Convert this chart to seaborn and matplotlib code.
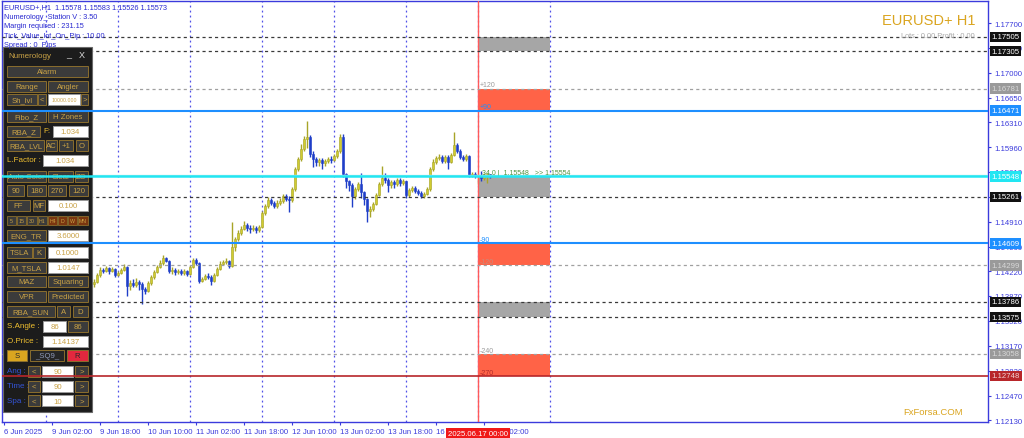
import matplotlib
matplotlib.use("Agg")
import matplotlib.pyplot as plt
from matplotlib.patches import Rectangle
from matplotlib.transforms import blended_transform_factory
import numpy as np
import seaborn as sns

# H1 bars, bar 0 = 6 Jun 2025 10:00 (first visible bar is 29, the rest sits under the panel)
first_bar = 29
first_open = 1.13990
closes = [
    1.14038, 1.14066, 1.14164, 1.14235, 1.14221, 1.14263, 1.14221, 1.14249, 1.14164, 1.14193,
    1.14235, 1.14277, 1.14010, 1.14052, 1.14024, 1.14066, 1.14038, 1.13968, 1.13940, 1.14052,
    1.14136, 1.14207, 1.14277, 1.14333, 1.14403, 1.14361, 1.14221, 1.14235, 1.14207, 1.14221,
    1.14193, 1.14221, 1.14179, 1.14277, 1.14375, 1.14333, 1.14080, 1.14108, 1.14150, 1.14136,
    1.14080, 1.14164, 1.14249, 1.14319, 1.14347, 1.14361, 1.14291, 1.14557, 1.14670, 1.14754,
    1.14810, 1.14866, 1.14824, 1.14810, 1.14824, 1.14796, 1.14838, 1.15034, 1.15133, 1.15217,
    1.15175, 1.15133, 1.15175, 1.15203, 1.15273, 1.15231, 1.15217, 1.15371, 1.15652, 1.15792,
    1.15932, 1.16073, 1.16101, 1.15862, 1.15792, 1.15750, 1.15778, 1.15736, 1.15764, 1.15792,
    1.15778, 1.15834, 1.15904, 1.16101, 1.15581, 1.15483, 1.15427, 1.15273, 1.15371, 1.15441,
    1.15329, 1.15231, 1.15062, 1.15090, 1.15161, 1.15287, 1.15441, 1.15525, 1.15497, 1.15427,
    1.15469, 1.15441, 1.15497, 1.15455, 1.15483, 1.15287, 1.15357, 1.15385, 1.15343, 1.15315,
    1.15273, 1.15301, 1.15371, 1.15652, 1.15750, 1.15806, 1.15820, 1.15764, 1.15820, 1.15750,
    1.15848, 1.15988, 1.15904, 1.15820, 1.15792, 1.15834, 1.15567, 1.15581, 1.15553, 1.15567,
    1.15525, 1.15567, 1.15578, 1.15573,
]
highs = [
    1.14080, 1.14110, 1.14190, 1.14270, 1.14265, 1.14290, 1.14280, 1.14275, 1.14260, 1.14220,
    1.14260, 1.14320, 1.14290, 1.14090, 1.14110, 1.14120, 1.14100, 1.14060, 1.14000, 1.14080,
    1.14160, 1.14230, 1.14300, 1.14370, 1.14440, 1.14420, 1.14380, 1.14270, 1.14260, 1.14250,
    1.14250, 1.14250, 1.14240, 1.14300, 1.14400, 1.14400, 1.14350, 1.14140, 1.14180, 1.14190,
    1.14160, 1.14190, 1.14280, 1.14360, 1.14380, 1.14400, 1.14380, 1.14908, 1.14700, 1.14790,
    1.14850, 1.14920, 1.14900, 1.14860, 1.14860, 1.14850, 1.14870, 1.15060, 1.15160, 1.15260,
    1.15240, 1.15200, 1.15210, 1.15240, 1.15300, 1.15300, 1.15270, 1.15400, 1.15680, 1.15820,
    1.16000, 1.16110, 1.16325, 1.16130, 1.15900, 1.15820, 1.15810, 1.15800, 1.15790, 1.15820,
    1.15830, 1.15860, 1.15930, 1.16143, 1.16143, 1.15600, 1.15500, 1.15450, 1.15400, 1.15470,
    1.15590, 1.15350, 1.15250, 1.15130, 1.15190, 1.15320, 1.15470, 1.15694, 1.15600, 1.15530,
    1.15500, 1.15500, 1.15530, 1.15520, 1.15510, 1.15490, 1.15390, 1.15420, 1.15410, 1.15370,
    1.15340, 1.15330, 1.15400, 1.15680, 1.15790, 1.15840, 1.15860, 1.15850, 1.15850, 1.15850,
    1.15880, 1.16171, 1.16020, 1.15930, 1.15850, 1.15860, 1.15850, 1.15610, 1.15610, 1.15600,
    1.15620, 1.15600, 1.15600, 1.15583,
]
lows = [
    1.13870, 1.14000, 1.14050, 1.14140, 1.14190, 1.14200, 1.14180, 1.14200, 1.14130, 1.14150,
    1.14180, 1.14220, 1.13870, 1.13950, 1.13990, 1.13990, 1.13960, 1.13758, 1.13900, 1.13920,
    1.14030, 1.14110, 1.14190, 1.14260, 1.14310, 1.14340, 1.14190, 1.14180, 1.14170, 1.14180,
    1.14160, 1.14170, 1.14150, 1.14160, 1.14260, 1.14300, 1.14050, 1.14060, 1.14090, 1.14110,
    1.14020, 1.14060, 1.14150, 1.14230, 1.14300, 1.14320, 1.14260, 1.14270, 1.14500, 1.14640,
    1.14730, 1.14790, 1.14780, 1.14760, 1.14780, 1.14760, 1.14770, 1.14820, 1.15010, 1.15110,
    1.15150, 1.15100, 1.15110, 1.15150, 1.15180, 1.15200, 1.15050, 1.15190, 1.15340, 1.15620,
    1.15760, 1.15900, 1.15950, 1.15820, 1.15680, 1.15700, 1.15700, 1.15650, 1.15700, 1.15740,
    1.15740, 1.15760, 1.15810, 1.15880, 1.15540, 1.15380, 1.15340, 1.15119, 1.15230, 1.15350,
    1.15250, 1.15150, 1.14908, 1.14980, 1.15060, 1.15140, 1.15270, 1.15420, 1.15460, 1.15330,
    1.15380, 1.15390, 1.15420, 1.15420, 1.15430, 1.15250, 1.15260, 1.15330, 1.15310, 1.15280,
    1.15240, 1.15250, 1.15280, 1.15350, 1.15620, 1.15720, 1.15780, 1.15730, 1.15740, 1.15650,
    1.15730, 1.15830, 1.15870, 1.15790, 1.15760, 1.15770, 1.15540, 1.15540, 1.15520, 1.15440,
    1.15480, 1.15500, 1.15450, 1.15526,
]

time_ticks = [0, 16, 32, 48, 64, 80, 96, 112, 128, 144, 160]
time_labels = ['6 Jun 2025', '9 Jun 02:00', '9 Jun 18:00', '10 Jun 10:00', '11 Jun 02:00',
               '11 Jun 18:00', '12 Jun 10:00', '13 Jun 02:00', '13 Jun 18:00', '16 Jun 10:00',
               '17 Jun 02:00']
day_separators = [14, 38, 62, 86, 110, 134, 158, 182]
now_bar = 158
now_label = '2025.06.17 00:00'
zone_end_bar = 182

price_ticks = [1.17700, 1.17350, 1.17000, 1.16650, 1.16310, 1.15960, 1.15610, 1.15260, 1.14910,
               1.14560, 1.14220, 1.13870, 1.13520, 1.13170, 1.12820, 1.12470, 1.12130]

# horizontal levels drawn by the indicator
level_prices = [1.17505, 1.17305, 1.16781, 1.16471, 1.15548, 1.15261,
                1.14609, 1.14299, 1.13786, 1.13575, 1.13058, 1.12748]
level_kinds = ['dark', 'dark', 'gray', 'blue', 'cyan', 'dark',
               'blue', 'gray', 'dark', 'dark', 'gray', 'red']

zone_low = [1.17305, 1.16471, 1.15261, 1.14299, 1.13575, 1.12748]
zone_high = [1.17505, 1.16781, 1.15548, 1.14609, 1.13786, 1.13058]
zone_kind = ['gray', 'red', 'gray', 'red', 'gray', 'red']

angle_prices = [1.16781, 1.16471, 1.14609, 1.14299, 1.13058, 1.12748]
angle_labels = ['+120', '+90', '-90', '-120', '-240', '-270']

info_lines = ['EURUSD+,H1  1.15578 1.15583 1.15526 1.15573',
              'Numerology_Station V : 3.50',
              'Margin required : 231.15',
              'Tick_Value_lot_On_Pip : 10.00',
              'Spread : 0  Pips']

sns.set_theme(style='white')
plt.rcParams['font.family'] = ['Liberation Sans', 'DejaVu Sans']

AXC = '#3b3bdc'
BULL = '#d0cc30'
BULL_EDGE = '#a8a428'
BEAR = '#1f3ec8'
GOLD = '#c9a246'
AX_POS = [2 / 1024, 16 / 439, 986 / 1024, 421 / 439]
XLIM = (-0.67, 328)
YLIM = (1.12102, 1.18009)

fig = plt.figure(figsize=(10.24, 4.39), dpi=100)
fig.patch.set_facecolor('white')
ax = fig.add_axes(AX_POS)
ax.set_facecolor('white')

# candles
opens = [first_open] + closes[:-1]
bars = np.arange(first_bar, first_bar + len(closes))
o = np.array(opens)
c = np.array(closes)
up = c >= o
col = np.where(up, BULL, BEAR)
edge = np.where(up, BULL_EDGE, BEAR)
ax.vlines(bars, lows, highs, colors=np.where(up, BULL_EDGE, BEAR), lw=1.0, zorder=4)
body = np.maximum(np.abs(c - o), 0.00005)
ax.bar(bars, body, bottom=np.minimum(o, c), width=0.78, color=col, edgecolor=edge, lw=0.4, zorder=5)

# day separators
for b in day_separators:
    ax.axvline(b, color='#5050e8', lw=0.9, ls=(0, (1.5, 2.5)), zorder=2)
ax.axvline(now_bar, color='#ff5a5a', lw=1.0, zorder=6)

# zones to the right of the current bar
zone_colors = {'gray': '#a6a6a6', 'red': '#ff6347'}
for lo, hi, k in zip(zone_low, zone_high, zone_kind):
    ax.add_patch(Rectangle((now_bar, lo), zone_end_bar - now_bar, hi - lo,
                           facecolor=zone_colors[k], edgecolor='none', zorder=3))

line_style = {
    'dark': dict(color='#3a3a3a', lw=0.9, ls=(0, (2.5, 2.5))),
    'gray': dict(color='#a0a0a0', lw=0.9, ls=(0, (2.5, 2.5))),
    'blue': dict(color='#1e8fff', lw=1.5, ls='-'),
    'cyan': dict(color='#22e6f2', lw=1.8, ls='-'),
    'red': dict(color='#b8262a', lw=1.2, ls='-'),
}
# dashed levels sit under the panel
for p, k in zip(level_prices, level_kinds):
    if k in ('dark', 'gray'):
        ax.axhline(p, zorder=7, **line_style[k])
ax.axhline(closes[-1], color='#bfeeee', lw=1.0, zorder=6)

angle_colors = ['#9a9a9a', '#1e8fff', '#1e8fff', '#c98a7a', '#9a9a9a', '#b02a2a']
for p, t, cc in zip(angle_prices, angle_labels, angle_colors):
    ax.text(now_bar + 0.6, p + 0.00005, t, fontsize=5, color=cc, va='bottom', ha='left', zorder=8)
ax.text(now_bar + 1.3, 1.15548 + 0.00008, '34.0 |  1.15548   >> 1.15554', fontsize=5,
        color='#4f9440', va='bottom', ha='left', zorder=8)

# axes
ax.set_xlim(*XLIM)
ax.set_ylim(*YLIM)
for s in ax.spines.values():
    s.set_color(AXC)
    s.set_linewidth(1.0)
ax.yaxis.tick_right()
ax.set_yticks(price_ticks, [f'{v:.5f}' for v in price_ticks])
ax.set_xticks(time_ticks, time_labels)
for lab in ax.get_xticklabels():
    lab.set_ha('left')
ax.tick_params(axis='y', colors=AXC, labelsize=5.6, length=2.5, width=0.8, pad=2, direction='out', right=True)
ax.tick_params(axis='x', colors=AXC, labelsize=5.6, length=2.5, width=0.8, pad=2, direction='out', bottom=True)
ax.grid(False)

# coloured price labels on the right scale
trans = blended_transform_factory(ax.transAxes, ax.transData)
label_colors = {
    'dark': ('#111111', '#ffffff'),
    'gray': ('#9a9a9a', '#d8d8d8'),
    'blue': ('#1e8fff', '#ffffff'),
    'cyan': ('#22e6f2', '#ffffff'),
    'red': ('#b8262a', '#f0d0d0'),
}
for p, k in zip(level_prices, level_kinds):
    bg, fg = label_colors[k]
    ax.text(1.0035, p, f'{p:.5f}', transform=trans, fontsize=5.6, color=fg, va='center', ha='left',
            bbox=dict(boxstyle='square,pad=0.22', fc=bg, ec='none'), clip_on=False, zorder=10)

xtrans = blended_transform_factory(ax.transData, ax.transAxes)
ax.text(now_bar, -0.018, now_label, transform=xtrans, fontsize=5.6, color='white', va='top', ha='center',
        bbox=dict(boxstyle='square,pad=0.2', fc='#f01818', ec='none'), clip_on=False, zorder=10)

# overlay in pixel coordinates for the terminal texts and the panel
ov = fig.add_axes([0, 0, 1, 1], zorder=5)
ov.set_xlim(0, 1024)
ov.set_ylim(439, 0)
ov.axis('off')
ov.patch.set_alpha(0)

for i, t in enumerate(info_lines):
    ov.text(4, 8 + i * 9.4, t, fontsize=5.3, color='#2828d0', va='center', ha='left')

ov.text(975, 21, 'EURUSD+ H1', fontsize=10.5, color='#daa520', va='center', ha='right')
ov.text(975, 36.5, 'Lots : 0.00 Profit : 0.00', fontsize=5.3, color='#a8a8a8', va='center', ha='right')
ov.text(963, 413, 'FxForsa.COM', fontsize=6.8, color='#daa520', va='center', ha='right')

# Numerology panel
ov.add_patch(Rectangle((3, 48), 89, 365, facecolor='#1c1c1c', edgecolor='#6a6a6a', lw=0.8))
ov.text(8, 56, 'Numerology', fontsize=5.8, color=GOLD, va='center', ha='left')
ov.text(69, 55, '_', fontsize=6.5, color='#dddddd', va='center', ha='center')
ov.text(82, 56, 'X', fontsize=6.5, color='#dddddd', va='center', ha='center')

styles = {
    'b': ('#3b3b3b', '#8a6e2e', GOLD),
    'i': ('#ffffff', '#9a9a9a', GOLD),
    'g': ('#d9a520', '#8a6e2e', '#2a2a2a'),
    'r': ('#e2283e', '#8a6e2e', '#2a2a2a'),
    'o': ('#7a3610', '#8a6e2e', GOLD),
    'd': ('#262626', '#8a6e2e', '#8e98b8'),
}
rows = [
    (72, [(7, 88, 'Alarm', 'b')]),
    (87, [(7, 46, 'Range', 'b'), (48, 88, 'Angler', 'b')]),
    (100, [(7, 37, 'Sh_lvl', 'b'), (38, 46, '<', 'b'), (48, 80, '10000.000', 'i'), (81, 88, '>', 'b')]),
    (117, [(7, 46, 'Fibo_Z', 'b'), (48, 88, 'H Zones', 'b')]),
    (132, [(7, 40, 'RBA_Z', 'b'), (43, 52, 'F:', 'l'), (53, 88, '1.034', 'i')]),
    (146, [(7, 44, 'RBA_LVL', 'b'), (46, 57, 'AC', 'b'), (59, 73, '+1', 'b'), (76, 88, 'O', 'b')]),
    (161, [(7, 42, 'L.Factor :', 'l'), (43, 88, '1.034', 'i')]),
    (177, [(7, 46, 'Auto Color', 'b'), (48, 73, 'Clear', 'b'), (75, 88, 'ZO', 'b')]),
    (191, [(7, 24, '90', 'b'), (27, 46, '180', 'b'), (48, 66, '270', 'b'), (69, 88, '120', 'b')]),
    (206, [(7, 30, 'FF', 'b'), (33, 45, 'MF', 'b'), (48, 88, '0.100', 'i')]),
    (236, [(7, 46, 'ENG_TR', 'b'), (48, 88, '3.6000', 'i')]),
    (253, [(7, 32, 'TSLA', 'b'), (33, 45, 'K', 'b'), (48, 88, '0.1000', 'i')]),
    (268, [(7, 46, 'M_TSLA', 'b'), (48, 88, '1.0147', 'i')]),
    (282, [(7, 46, 'MAZ', 'b'), (48, 88, 'Squaring', 'b')]),
    (297, [(7, 46, 'VPR', 'b'), (48, 88, 'Predicted', 'b')]),
    (312, [(7, 55, 'RBA_SUN', 'b'), (57, 70, 'A', 'b'), (73, 88, 'D', 'b')]),
    (327, [(7, 42, 'S.Angle :', 'l'), (43, 66, '86', 'i'), (68, 88, '86', 'b')]),
    (342, [(7, 42, 'O.Price :', 'l'), (43, 88, '1.14137', 'i')]),
    (356, [(7, 27, 'S', 'g'), (30, 64, '_SQ9_', 'd'), (67, 88, 'R', 'r')]),
    (372, [(7, 27, 'Ang :', 'lb'), (28, 40, '<', 'b'), (42, 73, '90', 'i'), (75, 88, '>', 'b')]),
    (387, [(7, 27, 'Time :', 'lb'), (28, 40, '<', 'b'), (42, 73, '90', 'i'), (75, 88, '>', 'b')]),
    (402, [(7, 27, 'Spa :', 'lb'), (28, 40, '<', 'b'), (42, 73, '10', 'i'), (75, 88, '>', 'b')]),
]
for yc, items in rows:
    for x0, x1, t, k in items:
        if k == 'l':
            ov.text(x0, yc, t, fontsize=5.8, color='#f0c030', va='center', ha='left')
            continue
        if k == 'lb':
            ov.text(x0, yc, t, fontsize=5.8, color='#3454d8', va='center', ha='left')
            continue
        fc, ec, tc = styles[k]
        ov.add_patch(Rectangle((x0, yc - 5.5), x1 - x0, 11, facecolor=fc, edgecolor=ec, lw=0.7))
        fs = 3.8 if t == '10000.000' else 5.6
        ov.text((x0 + x1) / 2, yc + 0.3, t, fontsize=fs, color=tc, va='center', ha='center')

# timeframe strip
tfs = ['5', '15', '30', 'H1', 'H4', 'D', 'W', 'MN']
for j, t in enumerate(tfs):
    x0 = 7 + j * 10.2
    k = 'o' if j >= 4 else 'b'
    fc, ec, tc = styles[k]
    ov.add_patch(Rectangle((x0, 216.5), 9.2, 9, facecolor=fc, edgecolor=ec, lw=0.6))
    ov.text(x0 + 4.6, 221.2, t, fontsize=3.8, color=tc, va='center', ha='center')

# solid indicator lines are drawn over the panel
top = fig.add_axes(AX_POS, zorder=6)
top.set_xlim(*XLIM)
top.set_ylim(*YLIM)
top.axis('off')
top.patch.set_alpha(0)
for p, k in zip(level_prices, level_kinds):
    if k in ('blue', 'cyan', 'red'):
        top.axhline(p, **line_style[k])

fig.savefig('out.png', dpi=100)
